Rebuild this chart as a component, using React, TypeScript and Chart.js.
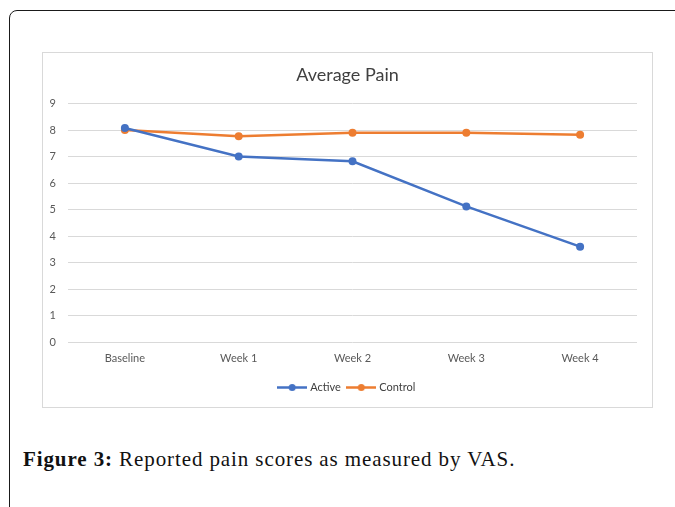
import React, { useEffect, useRef } from "react";
import { Chart, registerables } from "chart.js";

Chart.register(...registerables);

const categories = ["Baseline", "Week 1", "Week 2", "Week 3", "Week 4"];
const activeValues = [8.08, 7.0, 6.82, 5.12, 3.6];
const controlValues = [8.0, 7.77, 7.9, 7.9, 7.82];
const seriesNames = ["Active", "Control"];
const titleText = "Average Pain";
const captionLabel = "Figure 3:";
const captionText = " Reported pain scores as measured by VAS.";

const BLUE = "#4472C4";
const ORANGE = "#ED7D31";
const FONT = "Lato, 'Liberation Sans', sans-serif";

function legendIcon(color: string): HTMLCanvasElement {
  const c = document.createElement("canvas");
  c.width = 30;
  c.height = 9;
  const ctx = c.getContext("2d")!;
  ctx.strokeStyle = color;
  ctx.lineWidth = 2.5;
  ctx.beginPath();
  ctx.moveTo(0, 4.5);
  ctx.lineTo(30, 4.5);
  ctx.stroke();
  ctx.fillStyle = color;
  ctx.beginPath();
  ctx.arc(15, 4.5, 3.5, 0, Math.PI * 2);
  ctx.fill();
  return c;
}

export default function App() {
  const ref = useRef<HTMLCanvasElement | null>(null);

  useEffect(() => {
    if (!ref.current) return;
    const icons = [legendIcon(BLUE), legendIcon(ORANGE)];
    const chart = new Chart(ref.current, {
      type: "line",
      data: {
        labels: categories,
        datasets: [
          {
            label: seriesNames[0],
            data: activeValues,
            borderColor: BLUE,
            backgroundColor: BLUE,
            borderWidth: 2.5,
            pointRadius: 4,
            pointBackgroundColor: BLUE,
            pointBorderWidth: 0,
            pointStyle: "circle",
          },
          {
            label: seriesNames[1],
            data: controlValues,
            borderColor: ORANGE,
            backgroundColor: ORANGE,
            borderWidth: 2.5,
            pointRadius: 4,
            pointBackgroundColor: ORANGE,
            pointBorderWidth: 0,
            pointStyle: "circle",
          },
        ],
      },
      options: {
        responsive: false,
        animation: false,
        layout: { padding: { left: 0, right: 0, top: 0, bottom: 4 } },
        plugins: {
          title: {
            display: true,
            text: titleText,
            color: "#404040",
            font: { family: FONT, size: 18, weight: "normal" },
            padding: { top: 11, bottom: 18 },
          },
          legend: {
            position: "bottom",
            labels: {
              color: "#404040",
              font: { family: FONT, size: 11 },
              usePointStyle: true,
              pointStyleWidth: 25,
              boxHeight: 9,
              padding: 8,
              generateLabels: (ch: any) =>
                ch.data.datasets.map((ds: any, i: number) => ({
                  text: ds.label,
                  fillStyle: ds.borderColor,
                  strokeStyle: ds.borderColor,
                  pointStyle: icons[i],
                  lineWidth: 0,
                  hidden: false,
                  datasetIndex: i,
                  fontColor: "#404040",
                })),
            },
          },
          tooltip: { enabled: false },
        },
        scales: {
          x: {
            offset: true,
            afterFit: (s: any) => {
              s.height = 32;
            },
            grid: { display: false, drawTicks: false },
            border: { display: false },
            ticks: { color: "#595959", font: { family: FONT, size: 11 }, padding: 10 },
          },
          y: {
            min: 0,
            max: 9,
            afterFit: (s: any) => {
              s.width = 25;
            },
            ticks: { stepSize: 1, color: "#595959", font: { family: FONT, size: 11 }, padding: 12 },
            grid: { color: "#d9d9d9", drawTicks: false },
            border: { display: false },
          },
          yRight: {
            position: "right",
            min: 0,
            max: 9,
            afterFit: (s: any) => {
              s.width = 15;
            },
            ticks: { display: false },
            grid: { display: false, drawTicks: false },
            border: { display: false },
          },
        },
      },
    });
    return () => chart.destroy();
  }, []);

  return (
    <div style={{ position: "fixed", left: 0, top: 0, width: 675, height: 507, overflow: "hidden", background: "#fff" }}>
      <div
        style={{
          position: "absolute",
          left: 9,
          top: 10,
          width: 720,
          height: 560,
          border: "1.5px solid #1a1a1a",
          borderTopLeftRadius: 8,
        }}
      />
      <div
        style={{
          position: "absolute",
          left: 42,
          top: 52,
          width: 609,
          height: 354,
          border: "1px solid #d9d9d9",
        }}
      >
        <canvas ref={ref} width={609} height={354} style={{ display: "block" }} />
      </div>
      <div
        style={{
          position: "absolute",
          left: 23,
          top: 447,
          fontFamily: "'Liberation Serif', serif",
          fontSize: 21,
          letterSpacing: 0.9,
          color: "#111",
          whiteSpace: "nowrap",
        }}
      >
        <b>{captionLabel}</b>
        {captionText}
      </div>
    </div>
  );
}
